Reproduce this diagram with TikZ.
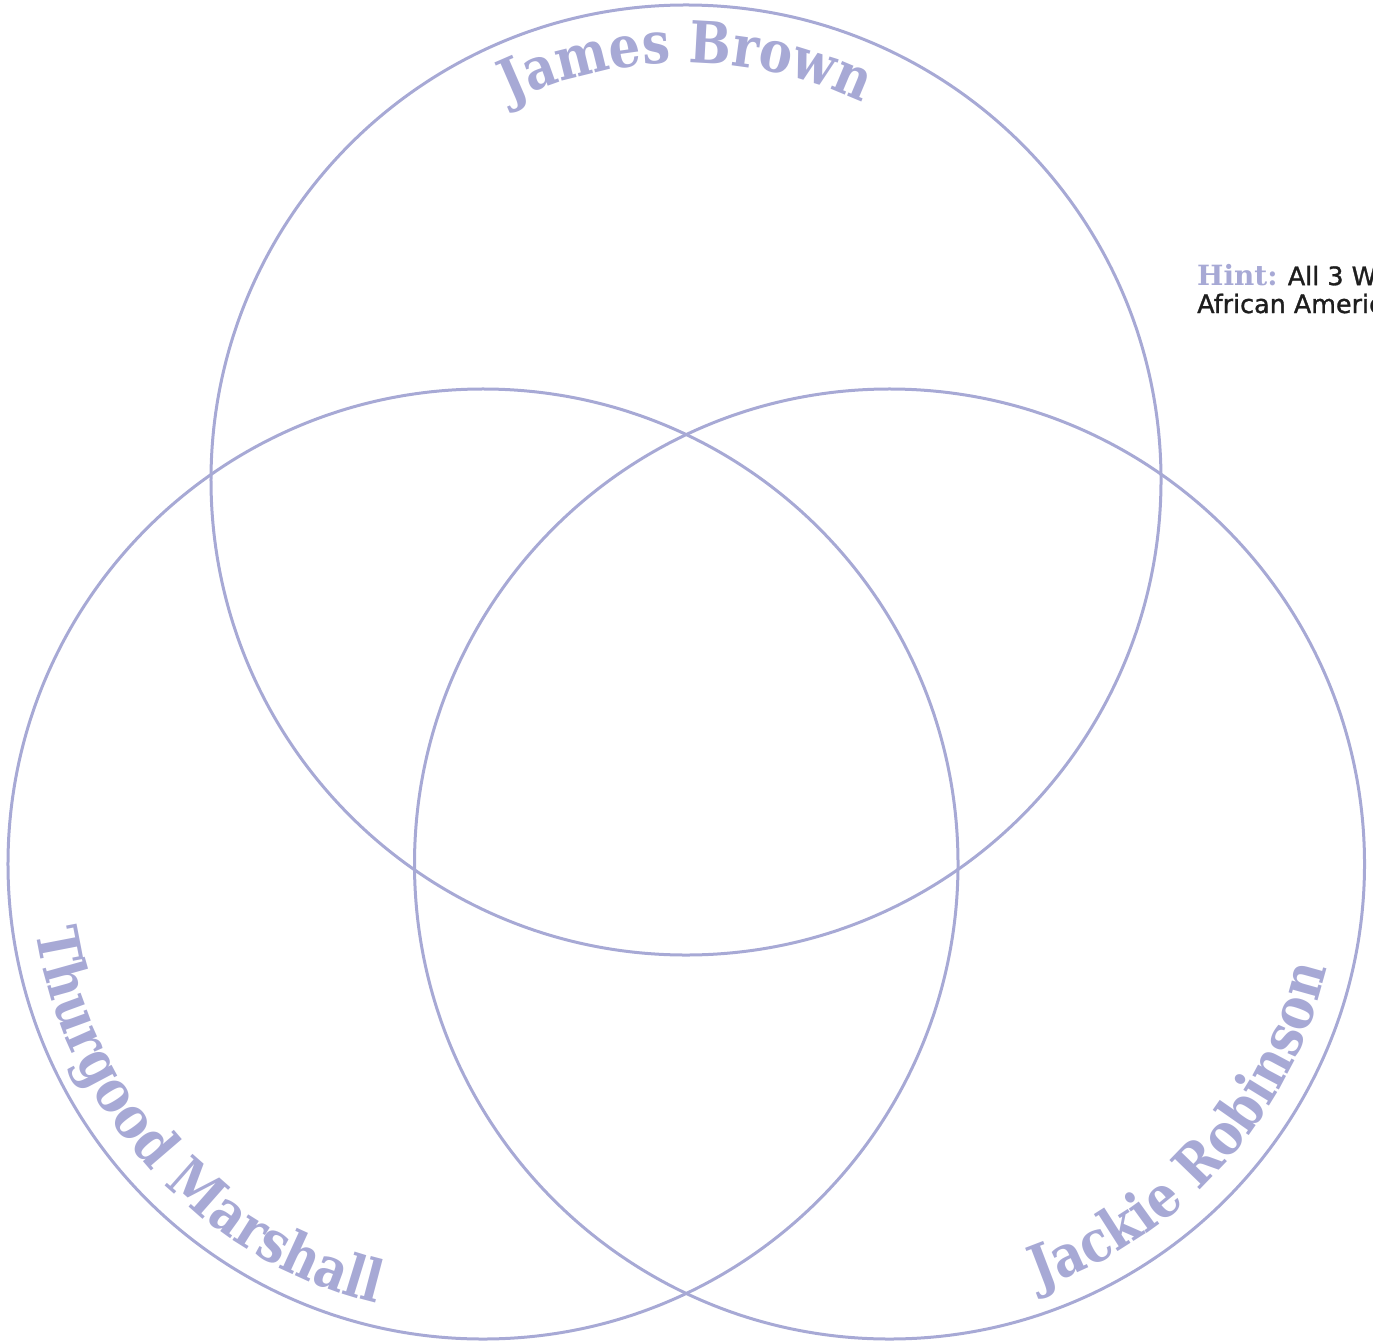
\documentclass[tikz,border=0pt]{standalone}
\usepackage{fontspec}
\usetikzlibrary{decorations.text}
\newfontfamily\slabfont[FakeStretch=0.86]{DejaVu Serif}
\newfontfamily\hintslab{DejaVu Serif}
\newfontfamily\hintsans[FakeBold=1.2]{DejaVu Sans}
\definecolor{vennpurple}{HTML}{A7A9D5}
\definecolor{hintblack}{HTML}{1E1E1E}
\tikzset{
  venncircle/.style={draw=vennpurple, line width=3bp},
  arclabel/.style={decorate, decoration={text along path, text align=center, text color=vennpurple,
      text={|\fontsize{58}{60}\selectfont\slabfont\bfseries|#1}}}
}
\begin{document}
\begin{tikzpicture}[x=1bp,y=1bp]
\useasboundingbox (0,0) rectangle (1373,-1342);
\clip (0,0) rectangle (1373,-1342);
\coordinate (cTop) at (686,-480);
\coordinate (cLeft) at (483,-864);
\coordinate (cRight) at (889.5,-864);
\node[venncircle, circle, minimum size=950bp, inner sep=0pt] (top) at (cTop) {};
\node[venncircle, circle, minimum size=950bp, inner sep=0pt] (left) at (cLeft) {};
\node[venncircle, circle, minimum size=950bp, inner sep=0pt] (right) at (cRight) {};
% labels along the circles
\path[arclabel={James Brown}] (cTop) ++(150:417) arc[start angle=150, end angle=30, radius=417];
\path[arclabel={Thurgood Marshall}] (cLeft) ++(162:452) arc[start angle=162, end angle=283, radius=452];
\path[arclabel={Jackie Robinson}] (cRight) ++(258:450) arc[start angle=258, end angle=378, radius=450];
% hint
\node[anchor=base west, inner sep=0pt, align=left, font=\fontsize{25.5}{28}\selectfont] (hint) at (1197,-313)
  {{\fontsize{28}{28}\selectfont\hintslab\bfseries\color{vennpurple}Hint:} {\hintsans\color{hintblack}All 3 Were}\\
   {\hintsans\color{hintblack}African Americans}};
\end{tikzpicture}
\end{document}
